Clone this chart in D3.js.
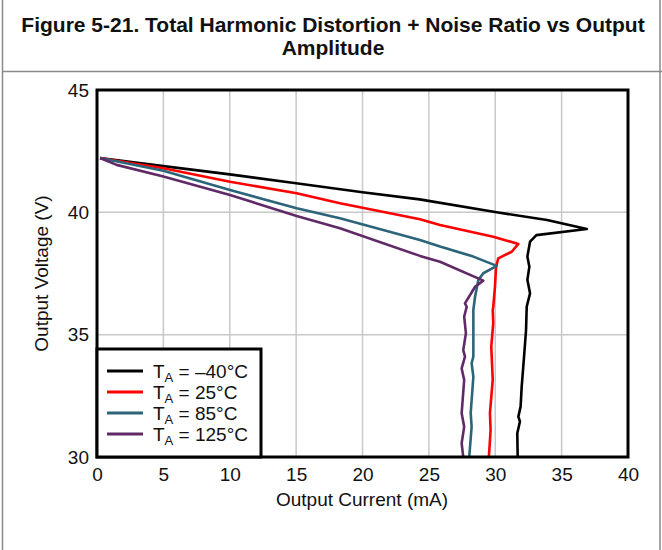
<!DOCTYPE html>
<html>
<head>
<meta charset="utf-8">
<script src="https://cdn.jsdelivr.net/npm/d3@7/dist/d3.min.js"></script>
<style>
  html, body { margin: 0; padding: 0; background: #fff; }
  svg { display: block; font-family: "Liberation Sans", Arial, sans-serif; }
</style>
</head>
<body>
<svg id="chart" width="662" height="550"></svg>
<script>
// ---- Data (Output Current mA, Output Voltage V) ----
const titleLines = ["Figure 5-21. Total Harmonic Distortion + Noise Ratio vs Output", "Amplitude"];
const xTicks = [0, 5, 10, 15, 20, 25, 30, 35, 40];
const yTicks = [30, 35, 40, 45];
const seriesNames = ["–40°C", "25°C", "85°C", "125°C"];
const seriesColors = ["#000000", "#ff0000", "#2c6479", "#5f2a66"];

const tm40 = [
  [0.23,42.22],[5,41.89],[10,41.55],[15,41.19],[20,40.82],[24.3,40.53],[30.1,40.0],[33.9,39.69],
  [36.9,39.32],[33.1,39.07],[32.62,38.80],[32.42,38.19],[32.57,37.78],[32.42,37.24],[32.62,36.69],
  [32.37,36.14],[32.32,35.19],[32.17,34.10],[31.99,32.87],[31.91,32.06],[31.74,31.65],[31.86,31.45],
  [31.66,30.97],[31.69,30.0]
];
const t25 = [
  [0.23,42.22],[5,41.80],[10.02,41.25],[15.04,40.78],[18.3,40.37],[24.33,39.72],[25.84,39.48],
  [29.85,39.0],[31.74,38.71],[31.24,38.39],[30.23,38.12],[30.06,37.78],[29.98,36.96],[29.85,36.14],
  [29.81,36.01],[29.85,35.47],[29.70,34.51],[29.81,33.15],[29.60,31.79],[29.65,31.10],[29.52,30.0]
];
const t85 = [
  [0.23,42.22],[5,41.70],[10.02,40.91],[15.04,40.17],[18.3,39.76],[24.33,38.87],[25.84,38.60],
  [28.35,38.19],[30.11,37.81],[29.1,37.51],[28.73,37.24],[28.48,36.55],[28.35,36.01],[28.35,35.74],
  [28.35,34.10],[28.22,33.83],[28.35,33.28],[28.15,31.79],[28.22,31.24],[28.04,30.0]
];
const t125 = [
  [0.23,42.22],[1.48,41.94],[5,41.46],[10.02,40.71],[15.04,39.85],[18.3,39.35],[24.33,38.22],
  [25.84,37.98],[29.1,37.21],[28.48,36.96],[27.72,36.28],[27.85,36.14],[27.66,35.74],[27.79,35.06],
  [27.59,34.37],[27.72,34.10],[27.47,33.62],[27.66,33.15],[27.47,31.79],[27.66,31.24],[27.47,30.56],
  [27.59,30.0]
];
const seriesData = [tm40, t25, t85, t125];

// ---- Layout ----
const svg = d3.select("#chart");
const W = 662, H = 550;
const plot = { left: 97, right: 628, top: 90, bottom: 457 };

const x = d3.scaleLinear().domain([0, 40]).range([plot.left, plot.right]);
const y = d3.scaleLinear().domain([30, 45]).range([plot.bottom, plot.top]);

// Outer frame and title separator
svg.append("line").attr("x1", 2.5).attr("x2", 2.5).attr("y1", 0).attr("y2", H)
  .attr("stroke", "#8a8a8a").attr("stroke-width", 1.5);
svg.append("line").attr("x1", 660).attr("x2", 660).attr("y1", 0).attr("y2", H)
  .attr("stroke", "#8a8a8a").attr("stroke-width", 1.5);
svg.append("line").attr("x1", 2).attr("x2", W).attr("y1", 71.5).attr("y2", 71.5)
  .attr("stroke", "#8a8a8a").attr("stroke-width", 1.5);

// Title
svg.append("g").selectAll("text").data(titleLines).join("text")
  .attr("x", 333).attr("y", (d, i) => 32 + i * 23)
  .attr("text-anchor", "middle")
  .attr("font-size", 21).attr("font-weight", "bold").attr("fill", "#111")
  .text(d => d);

// Gridlines
const grid = svg.append("g");
grid.selectAll(".vg").data(xTicks.slice(1, -1)).join("line")
  .attr("x1", d => x(d)).attr("x2", d => x(d)).attr("y1", plot.top).attr("y2", plot.bottom)
  .attr("stroke", "#c8c8c8").attr("stroke-width", 1.5);
grid.selectAll(".hg").data(yTicks.slice(1, -1)).join("line")
  .attr("x1", plot.left).attr("x2", plot.right).attr("y1", d => y(d)).attr("y2", d => y(d))
  .attr("stroke", "#c8c8c8").attr("stroke-width", 1.5);

// Axes (labels only, via d3 axis)
const xAxis = svg.append("g").attr("transform", `translate(0,${plot.bottom})`)
  .call(d3.axisBottom(x).tickValues(xTicks).tickSize(0).tickPadding(11).tickFormat(d3.format("d")));
const yAxis = svg.append("g").attr("transform", `translate(${plot.left},0)`)
  .call(d3.axisLeft(y).tickValues(yTicks).tickSize(0).tickPadding(8).tickFormat(d3.format("d")));
[xAxis, yAxis].forEach(a => {
  a.select(".domain").remove();
  a.selectAll("text").attr("font-size", 19).attr("fill", "#111")
    .attr("font-family", "'Liberation Sans', Arial, sans-serif");
});

// Axis titles
svg.append("text").attr("x", 362).attr("y", 506)
  .attr("text-anchor", "middle").attr("font-size", 19).attr("fill", "#111")
  .text("Output Current (mA)");
svg.append("text").attr("transform", `translate(48,${(plot.top + plot.bottom) / 2}) rotate(-90)`)
  .attr("text-anchor", "middle").attr("font-size", 19).attr("fill", "#111")
  .text("Output Voltage (V)");

// Lines
svg.append("clipPath").attr("id", "clip").append("rect")
  .attr("x", plot.left).attr("y", plot.top)
  .attr("width", plot.right - plot.left).attr("height", plot.bottom - plot.top);
const line = d3.line().x(d => x(d[0])).y(d => y(d[1]));
svg.append("g").attr("clip-path", "url(#clip)")
  .selectAll("path").data(seriesData).join("path")
  .attr("d", line).attr("fill", "none")
  .attr("stroke", (d, i) => seriesColors[i]).attr("stroke-width", 2.6)
  .attr("stroke-linejoin", "round");

// Plot frame
svg.append("rect").attr("x", plot.left).attr("y", plot.top)
  .attr("width", plot.right - plot.left).attr("height", plot.bottom - plot.top)
  .attr("fill", "none").attr("stroke", "#000").attr("stroke-width", 3);

// Legend
const lg = svg.append("g");
lg.append("rect").attr("x", plot.left).attr("y", 349).attr("width", 164).attr("height", plot.bottom - 349)
  .attr("fill", "#fff").attr("stroke", "#000").attr("stroke-width", 3);
const rows = lg.selectAll(".row").data(seriesNames).join("g")
  .attr("transform", (d, i) => `translate(0,${371 + i * 21})`);
rows.append("line").attr("x1", 107).attr("x2", 143).attr("y1", 0).attr("y2", 0)
  .attr("stroke", (d, i) => seriesColors[i]).attr("stroke-width", 3);
const lt = rows.append("text").attr("x", 153).attr("y", 7).attr("font-size", 19).attr("fill", "#111");
lt.append("tspan").text("T");
lt.append("tspan").attr("font-size", 13).attr("dy", 4).text("A");
lt.append("tspan").attr("dy", -4).text(d => " = " + d);
</script>
</body>
</html>
